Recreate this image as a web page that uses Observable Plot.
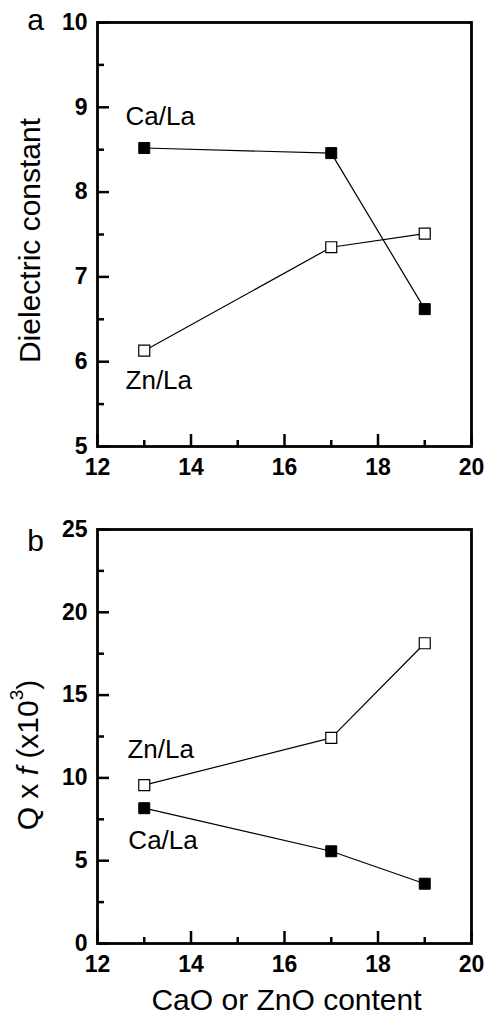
<!DOCTYPE html>
<html><head><meta charset="utf-8">
<script src="https://cdn.jsdelivr.net/npm/d3@7"></script>
<script src="https://cdn.jsdelivr.net/npm/@observablehq/plot@0.6"></script>
<style>body{margin:0;background:#fff;} svg{display:block;}</style>
</head><body><div id="chart"></div>
<script>
// ---- data ----
const content = [13, 17, 19];
const caLaDielectric = [8.52, 8.46, 6.62];
const znLaDielectric = [6.13, 7.35, 7.51];
const caLaQf = [8.17, 5.57, 3.61];
const znLaQf = [9.56, 12.42, 18.13];
const xTicks = [12, 14, 16, 18, 20];
const xMinor = [13, 15, 17, 19];
const yTicksA = [5, 6, 7, 8, 9, 10];
const yMinorA = [5.5, 6.5, 7.5, 8.5, 9.5];
const yTicksB = [0, 5, 10, 15, 20, 25];
const yMinorB = [2.5, 7.5, 12.5, 17.5, 22.5];
const seriesLabelsA = [{text: "Ca/La", x: 12.6, y: 8.89}, {text: "Zn/La", x: 12.6, y: 5.78}];
const seriesLabelsB = [{text: "Zn/La", x: 12.64, y: 11.68}, {text: "Ca/La", x: 12.66, y: 6.23}];

const font = "'Liberation Sans', Arial, Helvetica, sans-serif";
const fmt = d => String(d);

function rows(vals) { return content.map((x, i) => ({x, v: vals[i]})); }

function panel({height, marginTop, marginBottom, yDomain, yTicks, yMinor, ca, zn, labels, letter, letterDy, extra = []}) {
  return Plot.plot({
    width: 485, height, marginLeft: 97, marginRight: 14, marginTop, marginBottom,
    style: {fontFamily: font, background: "white", color: "black", overflow: "visible"},
    x: {domain: [12, 20]},
    y: {domain: yDomain},
    marks: [
      Plot.axisX(xTicks, {tickSize: -12, strokeWidth: 2.5, tickFormat: () => "", label: null}),
      Plot.axisX(xMinor, {tickSize: -6, strokeWidth: 2.5, tickFormat: () => "", label: null}),
      Plot.axisX(xTicks, {tickSize: 0, tickPadding: 12, fontSize: 23, fontWeight: "bold", tickFormat: fmt, label: null}),
      Plot.axisY(yTicks, {tickSize: -12, strokeWidth: 2.5, tickFormat: () => "", label: null}),
      Plot.axisY(yMinor, {tickSize: -7, strokeWidth: 2.5, tickFormat: () => "", label: null}),
      Plot.axisY(yTicks, {tickSize: 0, tickPadding: 10, fontSize: 23, fontWeight: "bold", tickFormat: fmt, label: null}),
      Plot.frame({stroke: "black", strokeWidth: 2.8}),
      Plot.line(rows(ca), {x: "x", y: "v", stroke: "black", strokeWidth: 1.2}),
      Plot.line(rows(zn), {x: "x", y: "v", stroke: "black", strokeWidth: 1.2}),
      Plot.dot(rows(ca), {x: "x", y: "v", symbol: "square", r: 6.2, fill: "black", stroke: "black", strokeWidth: 1}),
      Plot.dot(rows(zn), {x: "x", y: "v", symbol: "square", r: 6.2, fill: "white", stroke: "black", strokeWidth: 1.2}),
      Plot.text(labels, {x: "x", y: "y", text: "text", textAnchor: "start", fontSize: 26}),
      Plot.text([letter], {frameAnchor: "top-left", textAnchor: "middle", lineAnchor: "middle", dx: -62, dy: letterDy, fontSize: 30}),
      ...extra
    ]
  });
}

const plotA = panel({
  height: 500, marginTop: 22, marginBottom: 54, yDomain: [5, 10], yTicks: yTicksA, yMinor: yMinorA,
  ca: caLaDielectric, zn: znLaDielectric, labels: seriesLabelsA, letter: "a", letterDy: -2,
  extra: [Plot.text(["Dielectric constant"], {frameAnchor: "left", textAnchor: "middle", lineAnchor: "middle", dx: -67, dy: 6, rotate: -90, fontSize: 30})]
});

const plotB = panel({
  height: 535, marginTop: 29, marginBottom: 92, yDomain: [0, 25], yTicks: yTicksB, yMinor: yMinorB,
  ca: caLaQf, zn: znLaQf, labels: seriesLabelsB, letter: "b", letterDy: 12,
  extra: [Plot.text(["CaO or ZnO content"], {frameAnchor: "bottom", textAnchor: "middle", lineAnchor: "middle", dx: 2, dy: 57, fontSize: 30})]
});

// y label for panel b with italic f and superscript
const t = d3.select(plotB).append("text")
  .attr("transform", "translate(30,255) rotate(-90)")
  .attr("text-anchor", "middle")
  .attr("dominant-baseline", "middle")
  .attr("font-size", 30)
  .attr("font-family", font)
  .attr("fill", "black");
t.append("tspan").text("Q x ");
t.append("tspan").attr("font-style", "italic").text("f");
t.append("tspan").text(" (x10");
t.append("tspan").attr("font-size", 19).attr("dy", -12).text("3");
t.append("tspan").attr("dy", 12).text(")");

const chart = document.getElementById("chart");
chart.appendChild(plotA);
chart.appendChild(plotB);
</script>
</body></html>
